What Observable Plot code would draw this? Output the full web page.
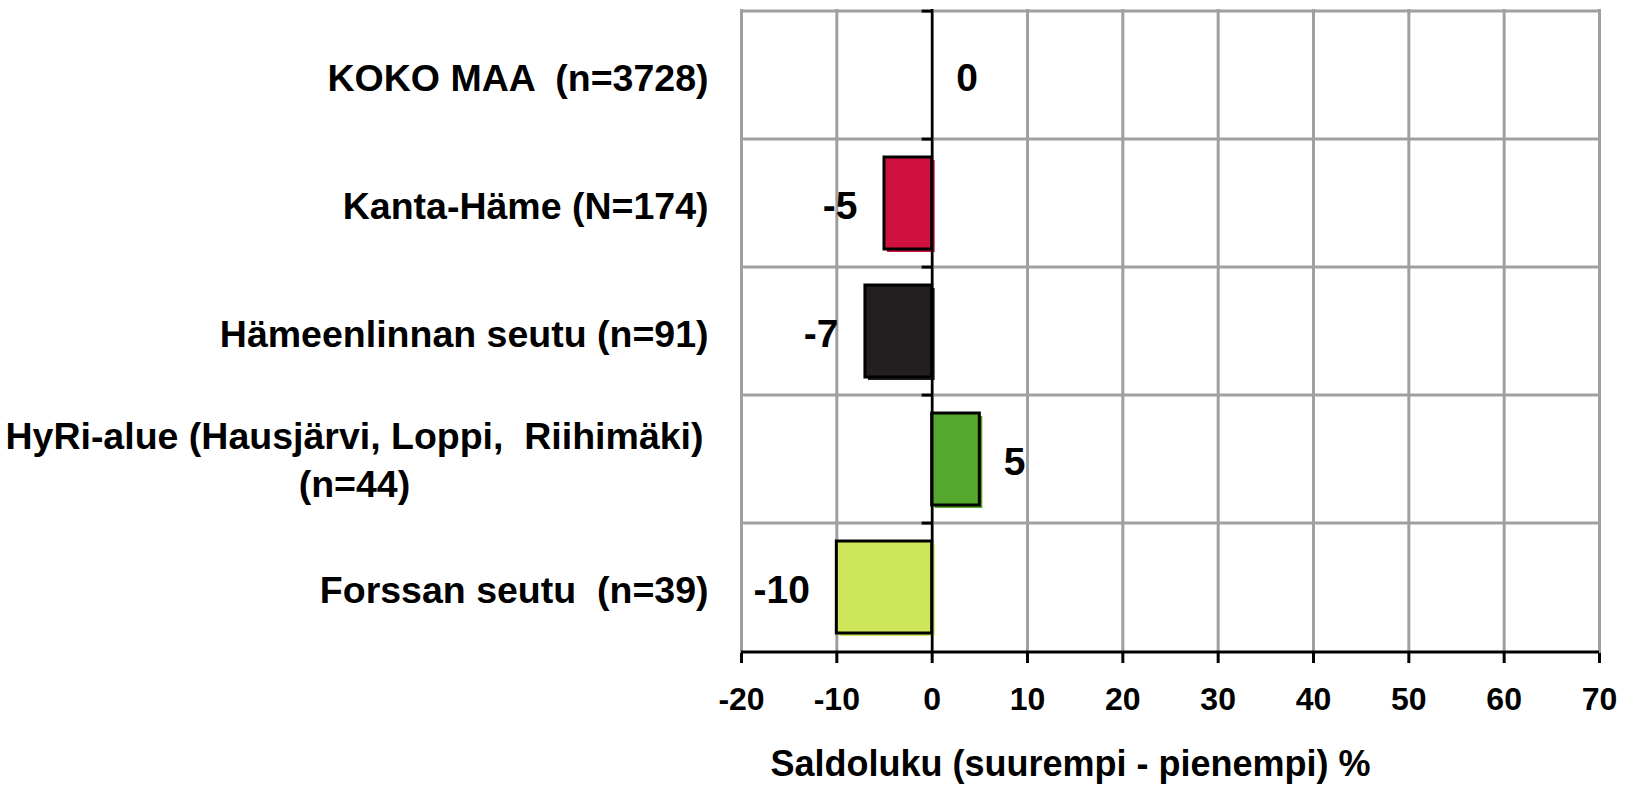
<!DOCTYPE html>
<html>
<head>
<meta charset="utf-8">
<script src="https://cdn.jsdelivr.net/npm/d3@7"></script>
<script src="https://cdn.jsdelivr.net/npm/@observablehq/plot@0.6"></script>
<style>
  body { margin: 0; background: #fff; }
  svg { display: block; }
  svg text { white-space: pre; }
</style>
</head>
<body>
<div id="chart"></div>
<script>
const categories = [
  "KOKO MAA  (n=3728)",
  "Kanta-Häme (N=174)",
  "Hämeenlinnan seutu (n=91)",
  "HyRi-alue (Hausjärvi, Loppi,  Riihimäki)\n(n=44)",
  "Forssan seutu  (n=39)"
];
const values = [0, -5, -7, 5, -10];
const colors = ["#888888", "#D0103F", "#231F20", "#55A82D", "#CEE65A"];
const xTicks = [-20, -10, 0, 10, 20, 30, 40, 50, 60, 70];
const xTitle = "Saldoluku (suurempi - pienempi) %";

const data = categories.map((c, i) => ({category: c, value: values[i], color: colors[i]}));

const W = 1640, H = 785, mt = 9, mb = 132, ml = 741, mr = 41;
const step = (H - mt - mb) / categories.length;
const FONT = "'Liberation Sans', Arial, sans-serif";
const catSize = 37.5;

const bars = data.filter(d => d.value !== 0);
const single = categories.filter(c => !c.includes("\n"));
const multi = categories.filter(c => c.includes("\n"));

// measure widest line of the multi-line label so it can be centred as a block
const ctx = document.createElement("canvas").getContext("2d");
ctx.font = `bold ${catSize}px ${FONT}`;
const blockWidth = c => Math.max(...c.split("\n").map(l => ctx.measureText(l).width));

const marks = [
  Plot.ruleX(xTicks, {stroke: "#a0a0a0", strokeWidth: 3}),
  Plot.ruleY(categories, {y: d => d, dy: -step / 2, stroke: "#a0a0a0", strokeWidth: 3}),
  Plot.barX(bars, {x: "value", y: "category", fill: "color", dx: 3, dy: 3}),
  Plot.barX(bars, {x: "value", y: "category", fill: "color", stroke: "#000", strokeWidth: 3}),
  Plot.ruleX([0], {stroke: "#000", strokeWidth: 2.5}),
  Plot.ruleY(categories, {y: d => d, dy: -step / 2, x1: -1.05, x2: 0, stroke: "#000", strokeWidth: 3}),
  Plot.ruleY([categories[categories.length - 1]], {y: d => d, dy: step / 2, stroke: "#000", strokeWidth: 3}),
  Plot.axisX({ticks: xTicks, tickFormat: d => String(d), tickSize: 10, tickPadding: 24, strokeWidth: 3, stroke: "#000", fontSize: 32, label: null}),
  Plot.text(single, {y: d => d, text: d => d, frameAnchor: "left", dx: -33, dy: 3, textAnchor: "end", fontSize: catSize, fill: "#000"}),
  ...multi.map(c => Plot.text([c], {y: d => d, text: d => d, frameAnchor: "left", dx: -38 - blockWidth(c) / 2, dy: -2, textAnchor: "middle", lineHeight: 1.3, fontSize: catSize, fill: "#000"})),
  Plot.text(data.filter(d => d.value >= 0), {x: "value", y: "category", text: d => String(d.value), textAnchor: "start", dx: 24, dy: 3, fontSize: 39, fill: "#000"}),
  Plot.text(data.filter(d => d.value < 0), {x: "value", y: "category", text: d => String(d.value), textAnchor: "end", dx: -27, dy: 3, fontSize: 39, fill: "#000"}),
  Plot.text([xTitle], {text: d => d, frameAnchor: "bottom", dx: -100, dy: 122, fontSize: 36, fill: "#000"})
];

const chart = Plot.plot({
  width: W, height: H,
  marginTop: mt, marginBottom: mb, marginLeft: ml, marginRight: mr,
  style: {fontFamily: FONT, fontWeight: "bold", fontSize: "36px", color: "#000", background: "#fff"},
  x: {domain: [-20, 70], ticks: xTicks},
  y: {domain: categories, paddingInner: 0.28, paddingOuter: 0.14, axis: null},
  marks
});

document.getElementById("chart").append(chart);
</script>
</body>
</html>
